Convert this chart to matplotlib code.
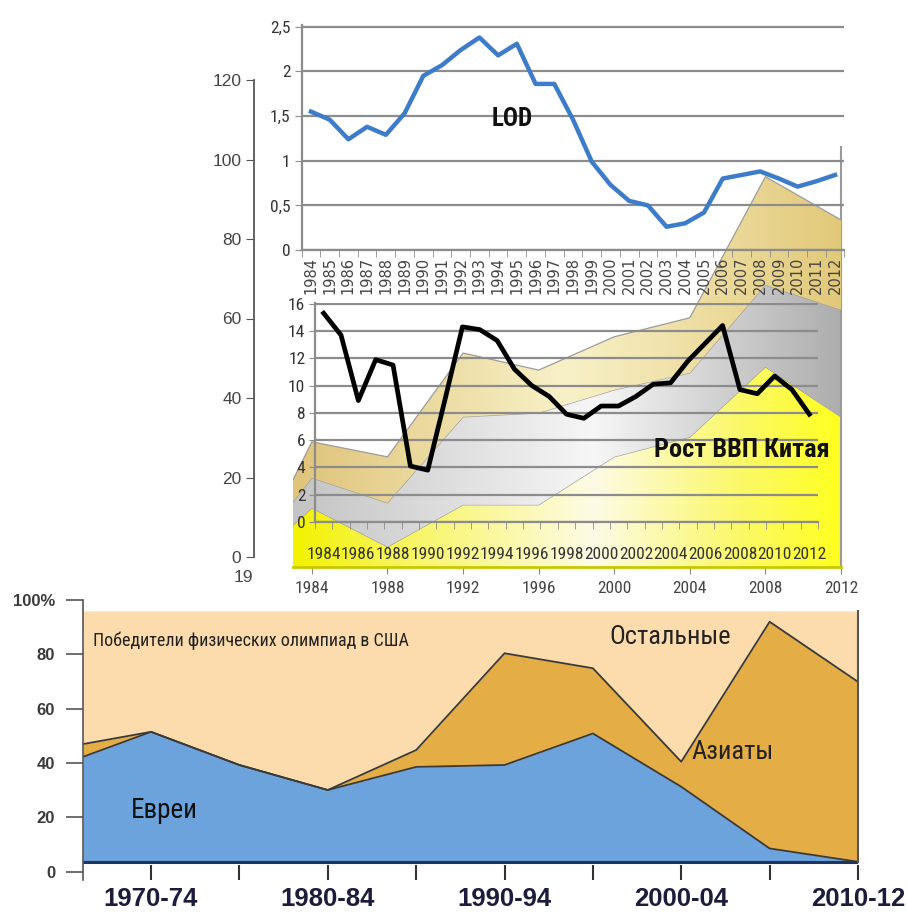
import numpy as np
import matplotlib
matplotlib.use('Agg')
import matplotlib.pyplot as plt
from matplotlib.colors import LinearSegmentedColormap

W, H = 907, 914
NARROW = ['Roboto Condensed', 'PT Sans Narrow', 'Open Sans Condensed',
          'Liberation Sans Narrow', 'DejaVu Sans']
plt.rcParams['font.family'] = ['Liberation Sans', 'DejaVu Sans']

# length of day (top chart)
lod_years = list(range(1984, 2013))
lod = [1.55, 1.46, 1.24, 1.38, 1.29, 1.53, 1.95, 2.07, 2.24, 2.38, 2.18, 2.31, 1.86, 1.86, 1.46,
       0.99, 0.73, 0.55, 0.50, 0.26, 0.30, 0.42, 0.80, 0.84, 0.88, 0.80, 0.71, 0.77, 0.84]

# China GDP growth, % (middle chart)
gdp_years = list(range(1984, 2013))
gdp = [15.3, 13.7, 8.9, 11.9, 11.5, 4.1, 3.8, 9.0, 14.3, 14.1, 13.3, 11.2, 10.0, 9.2, 7.9,
       7.6, 8.5, 8.5, 9.2, 10.1, 10.2, 11.8, 13.1, 14.4, 9.7, 9.4, 10.7, 9.7, 7.9]

# stacked areas behind (0-120 chart)
area_years = [1983, 1984, 1988, 1992, 1996, 2000, 2004, 2008, 2012]
area_yellow = [10.6, 14.9, 5.1, 15.7, 15.7, 27.8, 32.8, 50.5, 37.9]
area_gray = [5.8, 7.6, 11.1, 22.2, 23.2, 16.9, 16.2, 20.7, 27.0]
area_tan = [5.6, 9.1, 11.6, 16.1, 10.8, 13.4, 13.9, 27.3, 22.7]

# US physics olympiad winners (bottom chart)
periods = [0.23, 1, 2, 3, 4, 5, 6, 7, 8, 9]
period_names = ['1970-74', '1975-79', '1980-84', '1985-89', '1990-94',
                '1995-99', '2000-04', '2005-09', '2010-12']
jews = [42.3, 51.5, 39.3, 30.1, 38.6, 39.3, 50.9, 31.3, 8.6, 3.7]
asians = [4.7, 0.0, 0.0, 0.0, 6.2, 41.1, 24.0, 9.2, 83.4, 66.2]
base, top = 3.6, 96.0


def px_axes(fig, x0, x1, ytop, ybot, **kw):
    return fig.add_axes([x0 / W, 1 - ybot / H, (x1 - x0) / W, (ybot - ytop) / H], **kw)


def px_text(fig, x, y, s, **kw):
    return fig.text(x / W, 1 - y / H, s, **kw)


def gradient_layer(ax, x, lo, hi, colors, z):
    poly = ax.fill_between(x, lo, hi, facecolor='none', edgecolor='none', zorder=z)
    cmap = LinearSegmentedColormap.from_list('g', colors)
    im = ax.imshow(np.linspace(0, 1, 256)[None, :], cmap=cmap, aspect='auto',
                   extent=[x[0], x[-1], 0, 110], origin='lower', zorder=z,
                   interpolation='bilinear')
    im.set_clip_path(poly.get_paths()[0], transform=ax.transData)
    ax.plot(x, hi, color='#9c9c9c', lw=0.9, zorder=z + 0.5)


fig = plt.figure(figsize=(W / 100, H / 100), dpi=100)
fig.patch.set_facecolor('white')

# ---- background stacked areas
ax_a = px_axes(fig, 293, 841, 147, 567, facecolor='none')
x = np.array(area_years, dtype=float)
y1 = np.array(area_yellow)
y2 = y1 + np.array(area_gray)
y3 = y2 + np.array(area_tan)
gradient_layer(ax_a, x, 0, y1, [(0, '#f2f200'), (0.2, '#f8f560'), (0.55, '#fdfbe6'),
                                 (0.8, '#fbf870'), (1, '#ffff20')], 1)
gradient_layer(ax_a, x, y1, y2, [(0, '#c4c4c4'), (0.55, '#f6f6f6'), (1, '#adadad')], 2)
gradient_layer(ax_a, x, y2, y3, [(0, '#dfc47a'), (0.5, '#f8f1c8'), (1, '#e2c97a')], 3)
ax_a.set_xlim(1983, 2012)
ax_a.set_ylim(0, 106)
for s in ['left', 'top']:
    ax_a.spines[s].set_visible(False)
ax_a.spines['right'].set_color('#9a9a9a')
ax_a.spines['right'].set_linewidth(1.5)
ax_a.spines['bottom'].set_color('#c8c800')
ax_a.spines['bottom'].set_linewidth(2)
ax_a.set_yticks([])
ax_a.set_xticks(range(1984, 2013, 4))
ax_a.tick_params(axis='x', direction='out', length=5, color='#888', pad=5,
                 labelsize=12.5, labelcolor='#444')
for t in ax_a.get_xticklabels():
    t.set_family(NARROW)

# ---- left 0-120 axis
ax_l = px_axes(fig, 254, 290, 80, 557, facecolor='none')
ax_l.set_ylim(0, 120)
ax_l.set_yticks(range(0, 121, 20))
ax_l.set_xticks([])
for s in ['right', 'top', 'bottom']:
    ax_l.spines[s].set_visible(False)
ax_l.spines['left'].set_color('#555')
ax_l.spines['left'].set_linewidth(1.3)
ax_l.tick_params(axis='y', direction='out', length=6, color='#555', labelsize=12.5,
                 labelcolor='#444', pad=3)
px_text(fig, 243, 577, '19', fontsize=12.5, color='#444', ha='center', va='center')

# ---- middle chart: GDP
ax_g = px_axes(fig, 315, 818, 303, 522, facecolor='none')
ax_g.plot(gdp_years, gdp, color='black', lw=3.4, solid_joinstyle='round', zorder=5)
ax_g.set_xlim(1983.5, 2012.5)
ax_g.set_ylim(0, 16.05)
ax_g.set_yticks(range(0, 17, 2))
ax_g.yaxis.grid(True, color='#8c8c8c', lw=1.6)
ax_g.set_axisbelow(True)
ax_g.set_xticks(range(1984, 2013, 2))
ax_g.set_xticks(np.arange(1983.5, 2013), minor=True)
ax_g.tick_params(axis='x', which='major', length=0, pad=18, labelsize=12.5, labelcolor='#333')
ax_g.tick_params(axis='x', which='minor', direction='out', length=5, color='#8c8c8c')
ax_g.tick_params(axis='y', direction='out', length=4, color='#8c8c8c', labelsize=12.5,
                 labelcolor='#333', pad=3)
for t in ax_g.get_xticklabels() + ax_g.get_yticklabels():
    t.set_family(NARROW)
for s in ['right', 'top']:
    ax_g.spines[s].set_visible(False)
for s in ['left', 'bottom']:
    ax_g.spines[s].set_color('#8c8c8c')
    ax_g.spines[s].set_linewidth(1.6)
px_text(fig, 742, 450, 'Рост ВВП Китая', fontsize=19, fontweight='bold', family=NARROW,
        color='#111', ha='center', va='center')

# ---- top chart: LOD
ax_t = px_axes(fig, 301.6, 844.4, 25, 250, facecolor='none')
ax_t.plot(lod_years, lod, color='#3d7cc9', lw=3.2, solid_joinstyle='round', zorder=5)
ax_t.set_xlim(1983.5, 2012.5)
ax_t.set_ylim(0, 2.52)
ax_t.set_yticks([0, 0.5, 1, 1.5, 2, 2.5])
ax_t.set_yticklabels(['0', '0,5', '1', '1,5', '2', '2,5'])
ax_t.yaxis.grid(True, color='#8c8c8c', lw=1.6)
ax_t.set_axisbelow(True)
ax_t.set_xticks(lod_years)
ax_t.set_xticklabels([str(v) for v in lod_years], rotation=90)
ax_t.set_xticks(np.arange(1983.5, 2013), minor=True)
ax_t.tick_params(axis='x', which='major', length=0, pad=5, labelsize=10.5, labelcolor='#444')
ax_t.tick_params(axis='x', which='minor', direction='out', length=5, color='#8c8c8c')
ax_t.tick_params(axis='y', direction='out', length=5, color='#8c8c8c', labelsize=12.5,
                 labelcolor='#333', pad=3)
for t in ax_t.get_yticklabels():
    t.set_family(NARROW)
for t in ax_t.get_xticklabels():
    t.set_family('DejaVu Sans')
for s in ['right', 'top']:
    ax_t.spines[s].set_visible(False)
for s in ['left', 'bottom']:
    ax_t.spines[s].set_color('#8c8c8c')
    ax_t.spines[s].set_linewidth(1.6)
px_text(fig, 512, 119, 'LOD', fontsize=18, fontweight='bold', family=NARROW,
        color='#111', ha='center', va='center')

# ---- bottom chart: olympiad winners
ax_b = px_axes(fig, 83, 858, 600, 880, facecolor='none')
jt = np.array(jews)
at = jt + np.array(asians)
ax_b.fill_between(periods, base, jt, color='#6ca3dc', lw=0)
ax_b.fill_between(periods, jt, at, color='#e5ad46', lw=0)
ax_b.fill_between(periods, at, top, color='#fcdcac', lw=0)
ax_b.plot(periods, jt, color='#3a3a3a', lw=1.3)
ax_b.plot(periods, at, color='#3a3a3a', lw=1.3)
ax_b.plot(periods, [base] * len(periods), color='#1e3560', lw=2.2)
ax_b.set_xlim(0.23, 9)
ax_b.set_ylim(-3, 100)
ax_b.set_yticks(range(0, 101, 20))
ax_b.set_yticklabels(['0', '20', '40', '60', '80', '100%'])
ax_b.set_xticks(range(1, 10))
ax_b.set_xticklabels([n if i % 2 == 0 else '' for i, n in enumerate(period_names)])
ax_b.tick_params(axis='y', direction='out', length=12, color='#555', width=1.2,
                 labelsize=12, labelcolor='#3a3a3a', pad=8)
ax_b.tick_params(axis='x', direction='in', length=11, color='#333', width=1.5,
                 labelsize=18.5, labelcolor='#1c1c3c', pad=5)
for t in ax_b.get_yticklabels():
    t.set_fontweight('bold')
for t in ax_b.get_xticklabels():
    t.set_fontweight('bold')
for s in ['top', 'bottom']:
    ax_b.spines[s].set_visible(False)
ax_b.spines['left'].set_color('#555')
ax_b.spines['left'].set_linewidth(1.2)
ax_b.spines['right'].set_bounds(base, top)
ax_b.spines['right'].set_color('#555')
ax_b.spines['right'].set_linewidth(1.5)

px_text(fig, 93, 641, 'Победители физических олимпиад в США', fontsize=13, family=NARROW,
        color='#222', ha='left', va='center')
px_text(fig, 670, 637, 'Остальные', fontsize=19, family=NARROW, color='#222',
        ha='center', va='center')
px_text(fig, 733, 752, 'Азиаты', fontsize=19, family=NARROW, color='#222',
        ha='center', va='center')
px_text(fig, 164, 810, 'Евреи', fontsize=19.5, family=NARROW, color='#111',
        ha='center', va='center')

fig.savefig('out.png', dpi=100)
